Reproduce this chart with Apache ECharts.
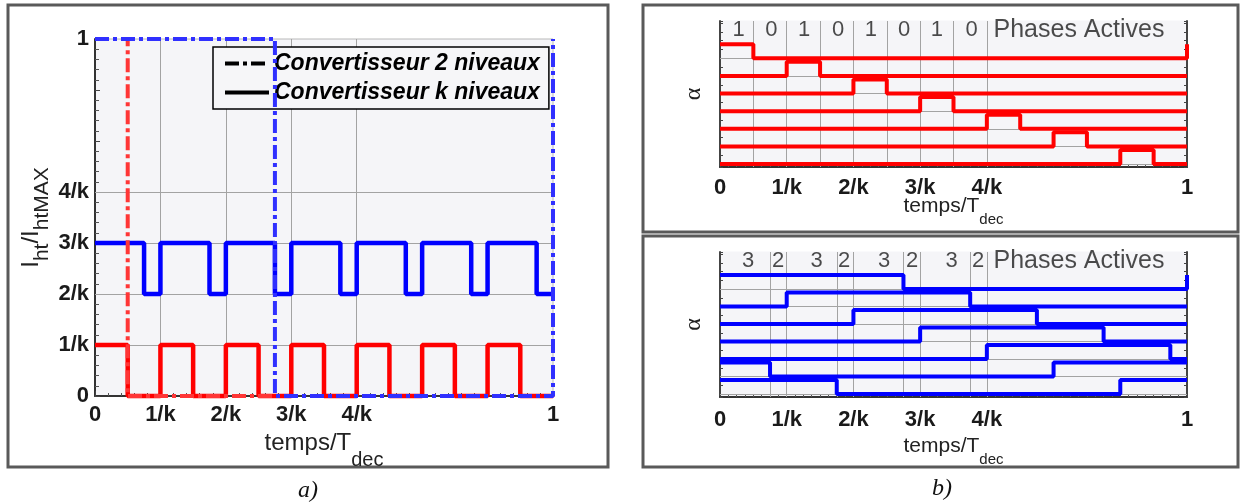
<!DOCTYPE html>
<html>
<head>
<meta charset="utf-8">
<script src="https://cdn.jsdelivr.net/npm/echarts@6.0.0/dist/echarts.min.js"></script>
<style>
html,body{margin:0;padding:0;background:#fff;}
#chart{width:1241px;height:504px;}
</style>
</head>
<body>
<div id="chart"></div>
<script>
// ---------- data ----------
const K = 7;                                   // number of phases (time axis in units of T_dec/k)
const xTickLabels = ['0', '1/k', '2/k', '3/k', '4/k', '', '', '1'];
const yTickLabels = ['0', '1/k', '2/k', '3/k', '4/k', '', '', '1'];

// panel a) : pulses [start, end] (units of T_dec/k) and [low, high] levels (units of I/k)
const red2Pulses  = [[0, 0.5], [7, 7.5]];
const blue2Pulses = [[0, 2.75], [7, 7.5]];
const redKPulses  = [[0, 0.5], [1, 1.5], [2, 2.5], [3, 3.5], [4, 4.5], [5, 5.5], [6, 6.5]];
const blueKPulses = [[0, 0.75], [1, 1.75], [2, 2.75], [3, 3.75], [4, 4.75], [5, 5.75], [6, 6.75]];
const red2Levels  = [0, 7];
const blue2Levels = [0, 7];
const redKLevels  = [0, 1];
const blueKLevels = [2, 3];
const gridLinesA  = [1, 2, 3, 4];

// panel b) : one row per phase
const rowBases    = [6, 5, 4, 3, 2, 1, 0];
const pulseHeight = 0.8;
const topRowPulses = [
  [[0, 0.5], [7, 7.5]], [[1, 1.5]], [[2, 2.5]], [[3, 3.5]], [[4, 4.5]], [[5, 5.5]], [[6, 6.5]]
];
const bottomRowPulses = [
  [[0, 2.75], [7, 7.5]], [[1, 3.75]], [[2, 4.75]], [[3, 5.75]], [[4, 6.75]],
  [[0, 0.75], [5, 7]], [[0, 1.75], [6, 7]]
];
const topGridX    = [0.5, 1, 1.5, 2, 2.5, 3, 3.5, 4];
const bottomGridX = [0.75, 1, 1.75, 2, 2.75, 3, 3.75, 4];
const topDigits     = ['1', '0', '1', '0', '1', '0', '1', '0'];
const topDigitX     = [0.28, 0.77, 1.26, 1.77, 2.26, 2.76, 3.25, 3.77];
const bottomDigits  = ['3', '2', '3', '2', '3', '2', '3', '2'];
const bottomDigitX  = [0.42, 0.87, 1.45, 1.86, 2.46, 2.88, 3.47, 3.87];
const phasesLabel   = 'Phases Actives';
const phasesLabelX  = 4.1;
const labelRowY     = 7.62;
const rowAxisMin = -0.17, rowAxisMax = 8.12;

const legendNames = ['Convertisseur 2 niveaux', 'Convertisseur k niveaux'];

// ---------- helpers ----------
const FONT = "'Liberation Sans', Arial, Helvetica, sans-serif";
const DASHDOT = [14, 4, 4, 4];

function stepData(pulses, low, high) {
  const pts = [];
  if (!pulses.length || pulses[0][0] > 0) pts.push([0, low]);
  let level = low;
  for (const [s, e] of pulses) {
    pts.push([s, high]); level = high;
    if (e < K) { pts.push([e, low]); level = low; }
  }
  if (pts[pts.length - 1][0] < K) pts.push([K, level]);
  return pts;
}

function tickLabel(arr) {
  return function (v) { const i = Math.round(v); return Math.abs(v - i) < 1e-6 ? (arr[i] || '') : ''; };
}

const labelStyle = { fontSize: 22, fontWeight: 'bold', color: '#1a1a1a', fontFamily: FONT };

function xAxisDef(grid, margin, gap, nFs, sFs, drop) {
  return {
    gridIndex: grid, type: 'value', min: 0, max: K, interval: 1,
    axisLine: { show: true, onZero: false, lineStyle: { color: '#333', width: 2 } },
    axisTick: { show: true, inside: true, length: 5, lineStyle: { color: '#444' } },
    minorTick: { show: true, splitNumber: grid === 0 ? 5 : 8, length: 3, lineStyle: { color: '#555' } },
    splitLine: { show: false },
    axisLabel: Object.assign({ formatter: tickLabel(xTickLabels), margin: margin }, labelStyle),
    name: '{n|temps/T}{s|dec}', nameLocation: 'middle', nameGap: gap, nameMoveOverlap: false,
    nameTextStyle: {
      rich: {
        n: { fontSize: nFs, lineHeight: nFs + 2, verticalAlign: 'top', color: '#222', fontFamily: FONT },
        s: { fontSize: sFs, lineHeight: sFs + 1, verticalAlign: 'top', color: '#222', fontFamily: FONT, padding: [drop, 0, 0, 0] }
      }
    }
  };
}

function rowYAxis(grid, withName) {
  const a = {
    gridIndex: grid, type: 'value', position: withName ? 'left' : 'right',
    min: rowAxisMin, max: rowAxisMax, splitNumber: 16,
    axisLine: { show: true, onZero: false, lineStyle: { color: '#444', width: 2 } },
    axisTick: { show: true, inside: true, length: 3, lineStyle: { color: '#444' } },
    axisLabel: { show: false }, splitLine: { show: false }
  };
  if (withName) {
    a.name = 'α'; a.nameLocation = 'middle'; a.nameGap = 14; a.nameRotate = 90; a.nameMoveOverlap = false;
    a.nameTextStyle = { fontSize: 24, color: '#222', fontFamily: "'Liberation Serif', 'Times New Roman', serif" };
  }
  return a;
}

function gridLineSeries(xi, yi, xs, ys) {
  return {
    type: 'line', xAxisIndex: xi, yAxisIndex: yi, data: [], silent: true,
    markLine: {
      silent: true, symbol: ['none', 'none'], z: 1, animation: false,
      label: { show: false },
      lineStyle: { color: '#a3a3a3', width: 1, type: 'solid' },
      emphasis: { disabled: true },
      data: xs.map(v => ({ xAxis: v })).concat(ys.map(v => ({ yAxis: v })))
    }
  };
}

function stepSeries(xi, yi, data, color, width, dash, z, name) {
  return {
    type: 'line', name: name, xAxisIndex: xi, yAxisIndex: yi, step: 'end', data: data,
    symbol: 'none', clip: false, silent: true, z: z,
    lineStyle: { color: color, width: width, type: dash || 'solid' }
  };
}

function labelSeries(xi, yi, digits, xs) {
  const data = digits.map((d, i) => ({ value: [xs[i], labelRowY], label: { formatter: d } }));
  data.push({ value: [phasesLabelX, labelRowY], label: { formatter: phasesLabel, position: 'right', distance: 0, fontSize: 25 } });
  return {
    type: 'scatter', xAxisIndex: xi, yAxisIndex: yi, symbolSize: 0, z: 6, silent: true,
    label: { show: true, position: 'inside', color: '#1e1e1e', fontSize: 22, fontFamily: FONT },
    data: data
  };
}

// ---------- series ----------
const series = [];
// panel a)
series.push(gridLineSeries(0, 0, gridLinesA, gridLinesA));
series.push(stepSeries(0, 0, stepData(redKPulses, redKLevels[0], redKLevels[1]), '#ff0000', 4.5, null, 3));
series.push(stepSeries(0, 0, stepData(blueKPulses, blueKLevels[0], blueKLevels[1]), '#0000ff', 4.5, null, 3));
series.push(stepSeries(0, 0, stepData(red2Pulses, red2Levels[0], red2Levels[1]), '#ff3636', 4, DASHDOT, 4));
series.push(stepSeries(0, 0, stepData(blue2Pulses, blue2Levels[0], blue2Levels[1]), '#3030ff', 4, DASHDOT, 5));
series.push({ type: 'line', name: legendNames[0], xAxisIndex: 0, yAxisIndex: 0, data: [], symbol: 'none',
  lineStyle: { color: '#000', width: 4, type: DASHDOT }, itemStyle: { color: '#000' } });
series.push({ type: 'line', name: legendNames[1], xAxisIndex: 0, yAxisIndex: 0, data: [], symbol: 'none',
  lineStyle: { color: '#000', width: 4 }, itemStyle: { color: '#000' } });
// panel b) top
series.push(gridLineSeries(1, 1, topGridX, rowBases));
topRowPulses.forEach((p, i) => series.push(
  stepSeries(1, 1, stepData(p, rowBases[i], rowBases[i] + pulseHeight), '#ff0000', 4, null, 3)));
series.push(labelSeries(1, 1, topDigits, topDigitX));
// panel b) bottom
series.push(gridLineSeries(2, 3, bottomGridX, rowBases));
bottomRowPulses.forEach((p, i) => series.push(
  stepSeries(2, 3, stepData(p, rowBases[i], rowBases[i] + pulseHeight), '#0000ff', 4, null, 3)));
series.push(labelSeries(2, 3, bottomDigits, bottomDigitX));

// ---------- option ----------
const gridBase = { show: true, backgroundColor: '#f5f5f8', borderColor: '#b8b8b8', borderWidth: 1 };
const frameStyle = { fill: 'none', stroke: '#5a5a5a', lineWidth: 3 };
const captionStyle = { fontFamily: "'Liberation Serif', 'Times New Roman', serif", fontStyle: 'italic', fontWeight: 'normal', fontSize: 24, color: '#111' };

const option = {
  animation: false,
  backgroundColor: '#ffffff',
  title: [
    { text: 'a)', left: 298, top: 479, padding: 0, textStyle: captionStyle },
    { text: 'b)', left: 932, top: 477, padding: 0, textStyle: captionStyle }
  ],
  graphic: [
    { type: 'rect', z: 0, silent: true, shape: { x: 8, y: 5, width: 600, height: 462 }, style: frameStyle },
    { type: 'rect', z: 0, silent: true, shape: { x: 643, y: 5, width: 595, height: 227 }, style: frameStyle },
    { type: 'rect', z: 0, silent: true, shape: { x: 643, y: 236, width: 595, height: 231 }, style: frameStyle }
  ],
  legend: {
    data: legendNames, orient: 'vertical', left: 213, top: 47,
    padding: [4, 9, 4, 10], itemGap: 4, itemWidth: 44, itemHeight: 2,
    backgroundColor: '#f6f6f8', borderColor: '#000', borderWidth: 1.5, borderRadius: 0,
    lineStyle: { width: 4 }, itemStyle: { opacity: 0, borderWidth: 0 }, selectedMode: false,
    textStyle: { fontSize: 23, fontWeight: 'bold', fontStyle: 'italic', color: '#000', fontFamily: FONT, lineHeight: 25 }
  },
  grid: [
    Object.assign({ left: 95, top: 39, width: 458, height: 357 }, gridBase),
    Object.assign({ left: 720, top: 21, width: 467, height: 146 }, gridBase, { borderColor: '#f5f5f8' }),
    Object.assign({ left: 720, top: 252, width: 467, height: 145 }, gridBase, { borderColor: '#f5f5f8' })
  ],
  xAxis: [
    xAxisDef(0, 8, 35, 24, 20, 19),
    xAxisDef(1, 10, 29, 21, 15, 16),
    xAxisDef(2, 12, 39, 21, 15, 16)
  ],
  yAxis: [
    {
      gridIndex: 0, type: 'value', min: 0, max: K, interval: 1,
      axisLine: { show: true, onZero: false, lineStyle: { color: '#333', width: 2 } },
      axisTick: { show: true, inside: true, length: 5, lineStyle: { color: '#444' } },
      minorTick: { show: true, splitNumber: 5, length: 4, lineStyle: { color: '#555' } },
      splitLine: { show: false },
      axisLabel: Object.assign({ formatter: tickLabel(yTickLabels), margin: 6 }, labelStyle),
      name: '{n|I}{s|ht}{n|/I}{s|htMAX}', nameLocation: 'middle', nameGap: 50, nameRotate: 90, nameMoveOverlap: false,
      nameTextStyle: {
        rich: {
          n: { fontSize: 24, lineHeight: 26, verticalAlign: 'top', color: '#222', fontFamily: FONT },
          s: { fontSize: 21, lineHeight: 22, verticalAlign: 'top', color: '#222', fontFamily: FONT, padding: [13, 0, 0, 0] }
        }
      }
    },
    rowYAxis(1, true),
    rowYAxis(1, false),
    rowYAxis(2, true),
    rowYAxis(2, false)
  ],
  series: series
};

const chart = echarts.init(document.getElementById('chart'), null, { renderer: 'canvas' });
chart.setOption(option);
</script>
</body>
</html>
